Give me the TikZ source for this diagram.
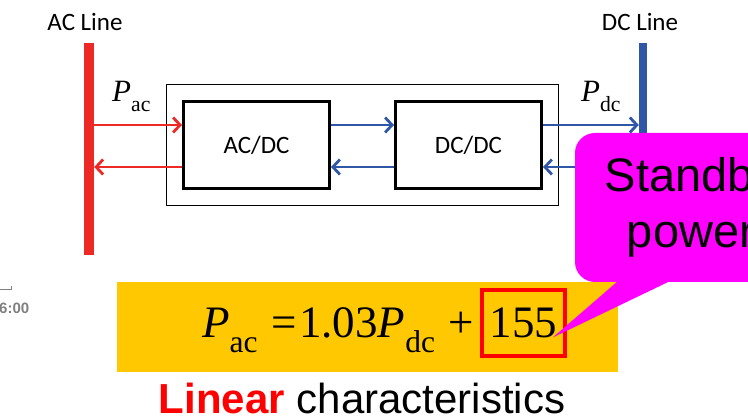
\documentclass[tikz,border=0pt]{standalone}
\usepackage{fontspec}
\setmainfont{Carlito}
\newfontfamily\tnr{Liberation Serif}
\newfontfamily\arial{Liberation Sans}
\usetikzlibrary{arrows.meta,calc,fit,positioning}
\definecolor{acred}{RGB}{237,41,38}
\definecolor{dcblue}{RGB}{47,87,165}
\definecolor{eqyellow}{RGB}{255,200,0}
\definecolor{callmag}{RGB}{255,0,255}
\newcommand{\Pv}[1]{{\tnr\textit{P}\raisebox{-0.32em}{\scalebox{0.7}{#1}}}}
\tikzset{
  conv/.style={draw, line width=3pt, minimum width=146pt, minimum height=87pt, font=\fontsize{25}{30}\selectfont},
  unitbox/.style={draw, line width=1.2pt, inner sep=15.5pt},
  bus/.style={inner sep=0pt, minimum height=212pt},
  linelabel/.style={anchor=base, inner sep=0pt, font=\fontsize{25}{30}\selectfont},
  plabel/.style={anchor=base west, inner sep=0pt, font=\fontsize{31}{36}\selectfont},
  eqtext/.style={anchor=base west, inner sep=0pt, font=\tnr\fontsize{45}{50}\selectfont},
  constbox/.style={draw=red, line width=4pt, minimum width=83pt, minimum height=66pt},
  callout/.style={fill=callmag, rounded corners=20pt, minimum width=232pt, minimum height=149pt, inner sep=0pt, align=center, font=\arial\fontsize{47}{56}\selectfont},
  acflow/.style={-{Straight Barb[length=7pt, width=15pt]}, line width=2.8pt, acred},
  dcflow/.style={-{Straight Barb[length=7pt, width=15pt]}, line width=2.8pt, dcblue}
}

\begin{document}
\begin{tikzpicture}[x=1pt,y=-1pt]
  \useasboundingbox (0,0) rectangle (748,419);
  \clip (0,0) rectangle (748,419);

  % converter unit
  \node[conv] (acdc) at (256.5,145) {AC/DC};
  \node[conv] (dcdc) at (468.5,145) {DC/DC};
  \node[unitbox, fit=(acdc)(dcdc)] (unit) {};

  % lines
  \node[bus, fill=acred, minimum width=10pt] (acbus) at (89,149) {};
  \node[bus, fill=dcblue, minimum width=8pt] (dcbus) at (643,149) {};
  \node[linelabel] (aclbl) at (85,31) {AC Line};
  \node[linelabel] (dclbl) at (640,31) {DC Line};
  \node[plabel] (pac) at (112,102) {\Pv{ac}};
  \node[plabel] (pdc) at (581,102) {\Pv{dc}};

  \coordinate (acfw) at ($(acdc.west)+(0,-20)$);
  \coordinate (acbw) at ($(acdc.west)+(0,22)$);
  \coordinate (midfw) at ($(acdc.east)+(0,-20)$);
  \coordinate (midbw) at ($(dcdc.west)+(0,22)$);
  \coordinate (dcfw) at ($(dcdc.east)+(0,-20)$);
  \coordinate (dcbw) at ($(dcdc.east)+(0,22)$);
  \draw[acflow] (acfw -| acbus.east) -- (acfw);
  \draw[acflow] (acbw) -- (acbw -| acbus.east);
  \draw[dcflow] (midfw) -- (midfw -| dcdc.west);
  \draw[dcflow] (midbw) -- (midbw -| acdc.east);
  \draw[dcflow] (dcfw) -- (dcfw -| dcbus.west);
  \draw[dcflow] (dcbw -| dcbus.west) -- (dcbw);

  % formula
  \node[fill=eqyellow, minimum width=501pt, minimum height=90pt, inner sep=0pt] (eqbg) at (367.5,327) {};
  \node[eqtext] (lhs) at (202,338) {\Pv{ac}\hspace{0.3em}=\hspace{0.06em}1.03\Pv{dc}\hspace{0.3em}+};
  \node[eqtext, constbox] (const) at (480,338) {155};
  \node[anchor=base, inner sep=0pt, font=\arial\fontsize{42}{48}\selectfont] (caption) at (362,414) {\textcolor{red}{\bfseries Linear} characteristics};

  % standby callout
  \node[callout] (standby) at (691,207.5) {Standby\\power};
  \coordinate (tip) at ($(const.east)+(-14,14)$);
  \fill[callmag] ($(standby.south west)+(43,-1)$) -- (tip) -- ($(standby.south west)+(95,-1)$) -- cycle;

  % slide remnants
  \draw[gray, line width=0.8pt] (0,289) -- (11,289) -- (11,286);
  \node[anchor=west, inner sep=0pt, text=gray, font=\arial\bfseries\fontsize{15}{17}\selectfont] (clock) at (-1,308) {6:00};
\end{tikzpicture}
\end{document}
